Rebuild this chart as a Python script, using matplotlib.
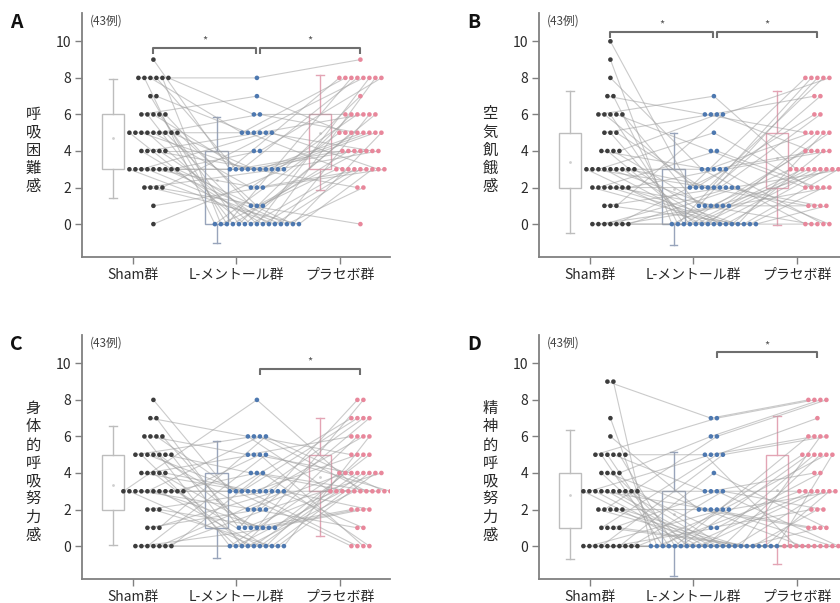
import numpy as np
import matplotlib
matplotlib.use('Agg')
import matplotlib.pyplot as plt

plt.rcParams['font.family'] = ['Noto Sans CJK JP', 'DejaVu Sans']

# ---------------- data ----------------
groups = ['Sham群', 'L-メントール群', 'プラセボ群']
panel_letters = ['A', 'B', 'C', 'D']
ylabels = ['呼吸困難感', '空気飢餓感', '身体的呼吸努力感', '精神的呼吸努力感']
n_label = '(43例)'
yticks = [0, 2, 4, 6, 8, 10]

# Panel A (呼吸困難感) – one entry per subject
a_sham = [9, 8, 8, 8, 8, 8, 8, 7, 7, 6, 6, 6, 6, 6, 5, 5, 5, 5, 5, 5, 5, 5, 5,
          4, 4, 4, 4, 4, 3, 3, 3, 3, 3, 3, 3, 3, 3, 2, 2, 2, 2, 1, 0]
a_lmen = [3, 8, 0, 5, 3, 0, 6, 0, 5, 7, 0, 3, 0, 1, 0, 5, 3, 0, 2, 6, 0, 3, 1,
          0, 5, 3, 0, 4, 0, 3, 5, 0, 2, 3, 0, 4, 0, 3, 0, 1, 5, 2, 3]
a_plac = [8, 9, 5, 8, 4, 3, 6, 8, 3, 5, 4, 8, 6, 0, 5, 8, 4, 3, 6, 5, 8, 2, 4,
          3, 6, 5, 8, 4, 3, 5, 4, 6, 3, 5, 2, 8, 5, 4, 3, 6, 3, 3, 7]

# Panel B (空気飢餓感)
b_sham = [10, 9, 8, 7, 7, 6, 6, 6, 6, 6, 5, 5, 5, 4, 4, 4, 4, 3, 3, 3, 3, 3, 3,
          3, 3, 3, 2, 2, 2, 2, 2, 2, 2, 1, 1, 1, 0, 0, 0, 0, 0, 0, 0]
b_lmen = [2, 0, 3, 6, 0, 7, 2, 0, 4, 1, 6, 0, 2, 3, 0, 1, 6, 0, 2, 5, 0, 1, 3,
          0, 2, 0, 0, 4, 2, 0, 1, 0, 3, 2, 0, 6, 0, 1, 2, 0, 3, 1, 2]
b_plac = [8, 3, 0, 5, 8, 3, 6, 4, 2, 8, 7, 3, 1, 5, 3, 0, 4, 3, 8, 2, 5, 1, 4,
          3, 7, 0, 3, 2, 6, 4, 3, 5, 0, 1, 3, 8, 2, 5, 3, 1, 4, 2, 0]

# Panel C (身体的呼吸努力感)
c_sham = [8, 7, 7, 6, 6, 6, 6, 5, 5, 5, 5, 5, 5, 5, 4, 4, 4, 4, 4, 3, 3, 3, 3,
          3, 3, 3, 3, 3, 3, 3, 2, 2, 2, 1, 1, 1, 0, 0, 0, 0, 0, 0, 0]
c_lmen = [3, 6, 1, 0, 5, 3, 1, 6, 0, 3, 2, 1, 4, 0, 3, 5, 0, 1, 3, 8, 0, 3, 2,
          6, 1, 0, 3, 4, 0, 5, 3, 0, 1, 2, 3, 6, 0, 1, 5, 0, 3, 2, 4]
c_plac = [7, 3, 8, 4, 6, 0, 3, 5, 3, 7, 4, 2, 3, 6, 0, 4, 3, 8, 5, 3, 4, 7, 1,
          3, 2, 4, 6, 3, 5, 0, 3, 4, 2, 7, 1, 3, 4, 5, 3, 6, 2, 4, 0]

# Panel D (精神的呼吸努力感)
d_sham = [9, 9, 7, 6, 5, 5, 5, 5, 5, 5, 4, 4, 4, 4, 3, 3, 3, 3, 3, 3, 3, 3, 3,
          3, 2, 2, 2, 2, 2, 1, 1, 1, 1, 0, 0, 0, 0, 0, 0, 0, 0, 0, 0]
d_lmen = [7, 0, 0, 2, 7, 0, 0, 3, 0, 5, 0, 2, 0, 6, 0, 5, 0, 2, 0, 0, 3, 0, 1,
          0, 0, 6, 0, 2, 0, 5, 0, 3, 0, 0, 2, 0, 5, 0, 1, 4, 0, 3, 2]
d_plac = [8, 0, 3, 1, 8, 5, 0, 3, 6, 0, 5, 0, 3, 8, 0, 6, 3, 1, 5, 0, 4, 0, 2,
          5, 0, 8, 3, 0, 6, 7, 1, 0, 2, 0, 5, 3, 6, 0, 4, 1, 5, 2, 3]

panel_data = [
    (a_sham, a_lmen, a_plac),
    (b_sham, b_lmen, b_plac),
    (c_sham, c_lmen, c_plac),
    (d_sham, d_lmen, d_plac),
]
sig_pairs = [[(0, 1), (1, 2)], [(0, 1), (1, 2)], [(1, 2)], [(1, 2)]]
sig_heights = [9.63, 10.5, 9.7, 10.6]
sig_mark = '*'

# ---------------- style ----------------
dot_colors = ['#3c3c3c', '#4d78b0', '#e8879b']
box_colors = ['#bdbdbd', '#98a4bb', '#e3a4b4']
line_color = '#a0a0a0'
spine_color = '#808080'
text_color = '#2a2a2a'

fig = plt.figure(figsize=(8.4, 6.03), dpi=100)
W, H = 840, 603
ax_rects = [
    (82, 13, 308, 244),
    (539, 13, 308, 244),
    (82, 335, 308, 244),
    (539, 335, 308, 244),
]

dot_off = 0.2
box_off = -0.19
dx = 0.058


def dot_positions(vals, center):
    vals = np.asarray(vals)
    xs = np.zeros(len(vals), dtype=float)
    for v in np.unique(vals):
        idx = np.where(vals == v)[0]
        n = len(idx)
        for k, i in enumerate(idx):
            xs[i] = center + (k - (n - 1) / 2) * dx
    return xs


for p, (rect, data) in enumerate(zip(ax_rects, panel_data)):
    l, t, w, h = rect
    ax = fig.add_axes([l / W, 1 - (t + h) / H, w / W, h / H])
    ax.set_xlim(-0.49, 2.486)
    ax.set_ylim(-1.8, 11.55)

    # box plots (quartile box, whiskers at mean +/- 1.5 SD)
    for g, vals in enumerate(data):
        arr = np.asarray(vals, dtype=float)
        q1, q3 = np.percentile(arr, [25, 75])
        m = arr.mean()
        sd = arr.std(ddof=1)
        st = dict(med=np.median(arr), q1=q1, q3=q3, whislo=m - 1.5 * sd,
                  whishi=m + 1.5 * sd, mean=m, fliers=[])
        c = box_colors[g]
        ax.bxp([st], positions=[g + box_off], widths=0.22, showfliers=False,
               showmeans=True, patch_artist=True,
               boxprops=dict(facecolor='white', edgecolor=c, linewidth=1.0),
               whiskerprops=dict(color=c, linewidth=1.0),
               capprops=dict(color=c, linewidth=1.0),
               medianprops=dict(linewidth=0),
               meanprops=dict(marker='o', markersize=2, markerfacecolor='#cfcfcf',
                              markeredgecolor='none'),
               capwidths=0.07, zorder=1)

    # dot positions
    xs = [dot_positions(vals, g + dot_off) for g, vals in enumerate(data)]
    ys = [np.asarray(v, dtype=float) for v in data]

    # paired lines
    for i in range(len(ys[0])):
        ax.plot([xs[0][i], xs[1][i], xs[2][i]], [ys[0][i], ys[1][i], ys[2][i]],
                color=line_color, lw=0.8, alpha=0.55, zorder=2,
                solid_capstyle='round')

    # dots
    for g in range(3):
        ax.scatter(xs[g], ys[g], s=11, color=dot_colors[g], edgecolors='none',
                   zorder=3)

    # significance brackets
    yb = sig_heights[p]
    for (g1, g2) in sig_pairs[p]:
        x1 = g1 + dot_off + (0.03 if g1 == 1 else 0.0)
        x2 = g2 + dot_off - (0.01 if g2 == 1 else 0.0)
        ax.plot([x1, x1, x2, x2], [yb - 0.32, yb, yb, yb - 0.32],
                color='#6e6e6e', lw=1.5, zorder=4, solid_capstyle='butt')
        ax.text((x1 + x2) / 2, yb + 0.4, sig_mark, ha='center', va='center',
                fontsize=8, color='#555555')

    # axes style
    for s in ['top', 'right']:
        ax.spines[s].set_visible(False)
    for s in ['left', 'bottom']:
        ax.spines[s].set_color(spine_color)
        ax.spines[s].set_linewidth(1.3)
    ax.set_yticks(yticks)
    ax.set_xticks(range(3))
    ax.set_xticklabels(groups)
    ax.tick_params(axis='both', colors=spine_color, labelcolor=text_color,
                   labelsize=10, length=5, width=1.0, pad=3)

    # labels
    ax.text(-0.159, 4.05, '\n'.join(ylabels[p]),
            transform=ax.get_yaxis_transform(), ha='center', va='center',
            fontsize=11, color=text_color, linespacing=1.08)
    ax.text(8 / w, 1 - 8 / h, n_label, transform=ax.transAxes, ha='left',
            va='center', fontsize=8.5, color='#444444')
    fig.text((l - 72) / W, 1 - (t + 9) / H, panel_letters[p], ha='left',
             va='center', fontsize=14, fontweight='bold', color='#111111')

fig.savefig('out.png', dpi=100)
